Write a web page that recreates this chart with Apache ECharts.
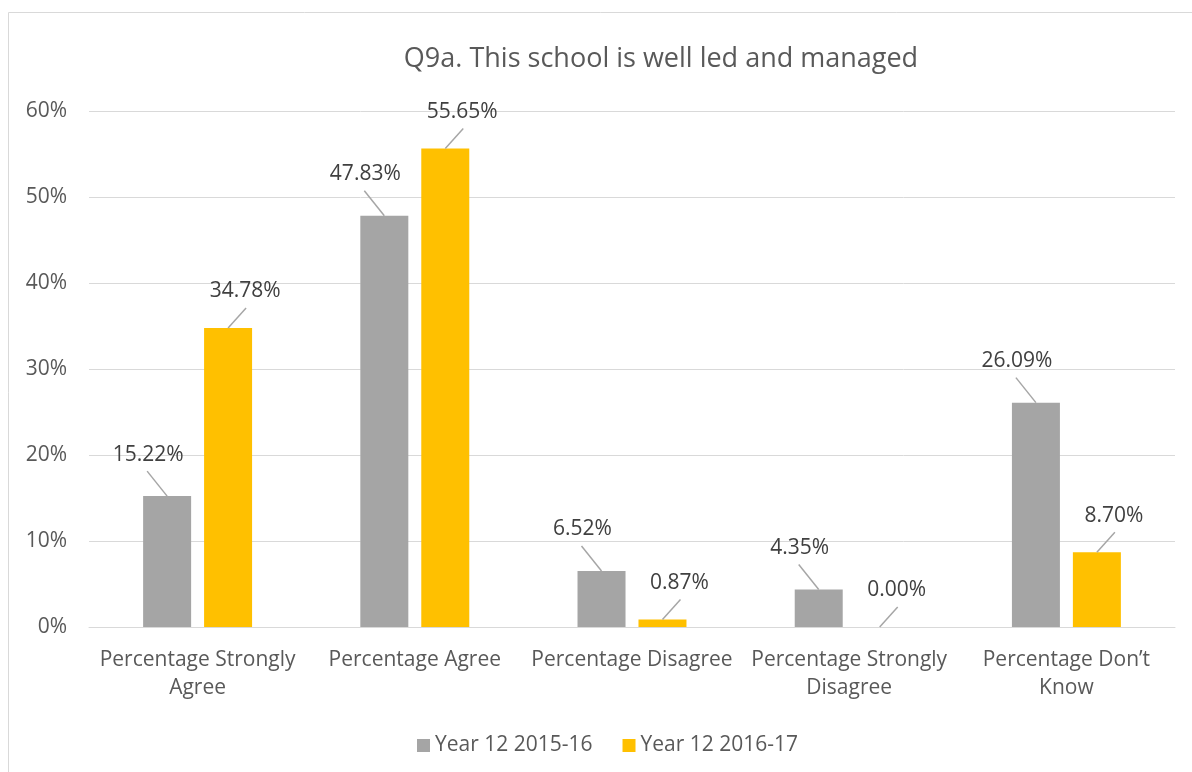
<!DOCTYPE html>
<html>
<head>
<meta charset="utf-8">
<script src="https://cdn.jsdelivr.net/npm/echarts@6/dist/echarts.min.js"></script>
<style>
  html, body { margin: 0; padding: 0; background: #fff; }
  #chart { width: 1192px; height: 772px; }
</style>
</head>
<body>
<div id="chart"></div>
<script>
// 类别和数据
var categories = [
  "Percentage Strongly\nAgree",
  "Percentage Agree",
  "Percentage Disagree",
  "Percentage Strongly\nDisagree",
  "Percentage Don’t\nKnow"
];
var seriesNames = ["Year 12 2015-16", "Year 12 2016-17"];
var year1516 = [15.22, 47.83, 6.52, 4.35, 26.09];
var year1617 = [34.78, 55.65, 0.87, 0.0, 8.7];
var yTicks = [0, 10, 20, 30, 40, 50, 60];

var font = "Open Sans";
var barWidth = 48;
var barGap = 0.27;
// 两个柱子相对类别中心的偏移
var barOffset = (barWidth + barWidth * barGap) / 2;

var myChart = echarts.init(document.getElementById("chart"));

function makeLabel(dx, dy) {
  return {
    show: true,
    position: "top",
    distance: 0,
    offset: [dx, dy],
    fontFamily: font,
    fontSize: 21,
    color: "#404040",
    formatter: function (p) {
      return p.value.toFixed(2) + "%";
    }
  };
}

// 引导线（从柱顶指向标签）
function leaderSeries(values, side, dx, dy) {
  return {
    type: "custom",
    silent: true,
    z: 5,
    data: values.map(function (v, i) { return [i, v]; }),
    renderItem: function (params, api) {
      var p = api.coord([api.value(0), api.value(1)]);
      var x = p[0] + side * barOffset;
      var y = p[1];
      return {
        type: "line",
        shape: { x1: x, y1: y, x2: x + dx, y2: y + dy },
        style: { stroke: "#a6a6a6", lineWidth: 1.5 }
      };
    }
  };
}

myChart.setOption({
  animation: false,
  textStyle: { fontFamily: font },
  graphic: [
    {
      type: "rect",
      shape: { x: 8.5, y: 12.5, width: 1300, height: 900 },
      style: { fill: "none", stroke: "#d9d9d9", lineWidth: 1 },
      silent: true
    }
  ],
  title: {
    text: "Q9a. This school is well led and managed",
    left: 656,
    textAlign: "center",
    top: 41,
    textStyle: {
      fontFamily: font,
      fontSize: 27,
      fontWeight: "normal",
      color: "#595959"
    }
  },
  legend: {
    top: 730,
    left: 412,
    itemWidth: 13,
    itemHeight: 13,
    itemGap: 30,
    icon: "rect",
    textStyle: { fontFamily: font, fontSize: 21, color: "#595959" },
    data: seriesNames
  },
  grid: { left: 89, right: 17, top: 111, bottom: 145, containLabel: false },
  xAxis: {
    type: "category",
    data: categories,
    axisLine: { lineStyle: { color: "#d9d9d9", width: 1 } },
    axisTick: { show: false },
    axisLabel: {
      fontFamily: font,
      fontSize: 21,
      color: "#595959",
      lineHeight: 28,
      margin: 19,
      interval: 0
    }
  },
  yAxis: {
    type: "value",
    min: yTicks[0],
    max: yTicks[yTicks.length - 1],
    interval: 10,
    axisLine: { show: false },
    axisTick: { show: false },
    splitLine: { lineStyle: { color: "#d9d9d9", width: 1 } },
    axisLabel: {
      fontFamily: font,
      fontSize: 21,
      color: "#595959",
      margin: 22,
      formatter: "{value}%"
    }
  },
  series: [
    {
      name: seriesNames[0],
      type: "bar",
      data: year1516,
      barWidth: barWidth,
      barGap: barGap * 100 + "%",
      itemStyle: { color: "#a5a5a5" },
      label: makeLabel(-19, -31)
    },
    {
      name: seriesNames[1],
      type: "bar",
      data: year1617,
      barWidth: barWidth,
      barGap: barGap * 100 + "%",
      itemStyle: { color: "#ffc000" },
      label: makeLabel(17, -26)
    },
    leaderSeries(year1516, -1, -20, -25),
    leaderSeries(year1617, 1, 18, -20)
  ]
});

window.addEventListener("resize", function () {
  myChart.resize();
});
</script>
</body>
</html>
